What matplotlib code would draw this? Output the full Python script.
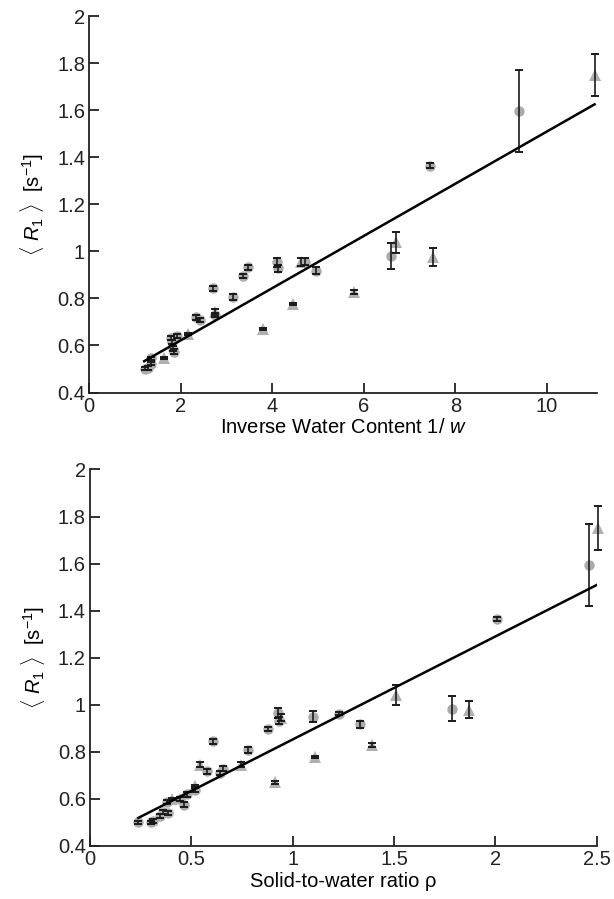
import matplotlib
matplotlib.use("Agg")
import matplotlib.pyplot as plt
import numpy as np

plt.rcParams['font.family'] = ['Liberation Sans', 'DejaVu Sans']
plt.rcParams['mathtext.fontset'] = 'custom'
plt.rcParams['mathtext.rm'] = 'Liberation Sans'
plt.rcParams['mathtext.it'] = 'Liberation Sans:italic'

# ---------- Top panel: inverse water content ----------
inv_w_circ = [1.22, 1.28, 1.34, 1.34, 1.78, 1.80, 1.83, 1.85, 1.92, 2.34, 2.43, 2.71, 2.74,
              3.13, 3.36, 3.47, 4.11, 4.13, 4.71, 4.95, 6.60, 7.45, 9.40]
r1_circ_top = [0.502, 0.505, 0.523, 0.545, 0.632, 0.615, 0.587, 0.573, 0.640, 0.719, 0.708, 0.843, 0.730,
               0.807, 0.896, 0.932, 0.953, 0.928, 0.956, 0.917, 0.981, 1.364, 1.597]
err_circ_top = [0.008, 0.008, 0.008, 0.008, 0.010, 0.010, 0.010, 0.010, 0.010, 0.010, 0.010, 0.012, 0.010,
                0.012, 0.010, 0.010, 0.020, 0.015, 0.015, 0.015, 0.055, 0.010, 0.176]

inv_w_tri = [1.64, 2.16, 2.74, 3.80, 4.45, 4.62, 5.78, 6.70, 7.51, 11.06]
r1_tri_top = [0.547, 0.650, 0.743, 0.669, 0.776, 0.955, 0.827, 1.038, 0.977, 1.750]
err_tri_top = [0.005, 0.005, 0.012, 0.005, 0.006, 0.015, 0.008, 0.043, 0.038, 0.090]

fit_top_slope = 0.111
fit_top_intercept = 0.400
fit_top_range = [1.20, 11.04]

# ---------- Bottom panel: solid-to-water ratio ----------
rho_circ = [0.238, 0.300, 0.310, 0.345, 0.362, 0.378, 0.386, 0.444, 0.465, 0.477, 0.518, 0.576, 0.608,
            0.641, 0.658, 0.778, 0.880, 0.926, 0.934, 1.102, 1.230, 1.332, 1.784, 2.009, 2.463]
r1_circ_bot = [0.500, 0.500, 0.505, 0.526, 0.544, 0.587, 0.540, 0.600, 0.575, 0.620, 0.639, 0.717, 0.844,
               0.710, 0.728, 0.809, 0.897, 0.965, 0.933, 0.950, 0.962, 0.918, 0.983, 1.364, 1.594]
err_circ_bot = [0.008, 0.008, 0.008, 0.008, 0.008, 0.010, 0.008, 0.010, 0.010, 0.010, 0.010, 0.010, 0.012,
                0.010, 0.010, 0.012, 0.010, 0.020, 0.015, 0.025, 0.006, 0.015, 0.053, 0.010, 0.175]

rho_tri = [0.403, 0.518, 0.543, 0.743, 0.913, 0.940, 1.110, 1.390, 1.510, 1.871, 2.508]
r1_tri_bot = [0.600, 0.653, 0.745, 0.745, 0.670, 0.945, 0.778, 0.830, 1.042, 0.979, 1.750]
err_tri_bot = [0.005, 0.005, 0.010, 0.010, 0.006, 0.015, 0.006, 0.008, 0.041, 0.037, 0.094]

fit_bot_slope = 0.4376
fit_bot_intercept = 0.415
fit_bot_range = [0.238, 2.503]

ylabel = r'$\langle\ R_1\ \rangle$  [s$^{-1}$]'

fig = plt.figure(figsize=(6.14, 8.99), dpi=100)
ax1 = fig.add_axes([0.1454, 0.5634, 0.8274, 0.4185])
ax2 = fig.add_axes([0.1466, 0.0590, 0.8252, 0.4188])

circ_color = '#ababab'
tri_color = '#b0b0b0'


def draw(ax, xc, yc, ec, xt, yt, et, slope, intercept, rng, xlim, xticks, xticklabels, xlabel):
    ax.plot(xc, yc, 'o', color=circ_color, markersize=7.5, markeredgewidth=0, zorder=2, clip_on=False)
    ax.plot(xt, yt, '^', color=tri_color, markersize=8, markeredgewidth=0, zorder=2, clip_on=False)
    ax.errorbar(xc, yc, yerr=ec, fmt='none', ecolor='#1a1a1a', elinewidth=1.2,
                capsize=3, capthick=1.4, zorder=3, clip_on=False)
    ax.errorbar(xt, yt, yerr=et, fmt='none', ecolor='#1a1a1a', elinewidth=1.2,
                capsize=3, capthick=1.4, zorder=3, clip_on=False)
    fx = np.array(rng)
    ax.plot(fx, intercept + slope * fx, color='black', linewidth=1.8, zorder=4)
    ax.set_xlim(*xlim)
    ax.set_ylim(0.4, 2.0)
    ax.set_xticks(xticks)
    ax.set_xticklabels(xticklabels)
    ax.set_yticks([0.4, 0.6, 0.8, 1.0, 1.2, 1.4, 1.6, 1.8, 2.0])
    ax.set_yticklabels(['0.4', '0.6', '0.8', '1', '1.2', '1.4', '1.6', '1.8', '2'])
    for s in ['top', 'right']:
        ax.spines[s].set_visible(False)
    for s in ['left', 'bottom']:
        ax.spines[s].set_linewidth(1.3)
        ax.spines[s].set_color('#222222')
    ax.tick_params(direction='in', length=7, width=1.3, labelsize=14.5, pad=3, colors='#222222')
    ax.set_xlabel(xlabel, fontsize=14.5, labelpad=2)
    ax.set_ylabel(ylabel, fontsize=14.5, labelpad=8)


draw(ax1, inv_w_circ, r1_circ_top, err_circ_top, inv_w_tri, r1_tri_top, err_tri_top,
     fit_top_slope, fit_top_intercept, fit_top_range, (0, 11.1),
     [0, 2, 4, 6, 8, 10], ['0', '2', '4', '6', '8', '10'],
     r'Inverse Water Content 1/ $\mathit{w}$')
draw(ax2, rho_circ, r1_circ_bot, err_circ_bot, rho_tri, r1_tri_bot, err_tri_bot,
     fit_bot_slope, fit_bot_intercept, fit_bot_range, (0, 2.5),
     [0, 0.5, 1, 1.5, 2, 2.5], ['0', '0.5', '1', '1.5', '2', '2.5'],
     'Solid-to-water ratio ρ')

fig.savefig('out.png', dpi=100)
